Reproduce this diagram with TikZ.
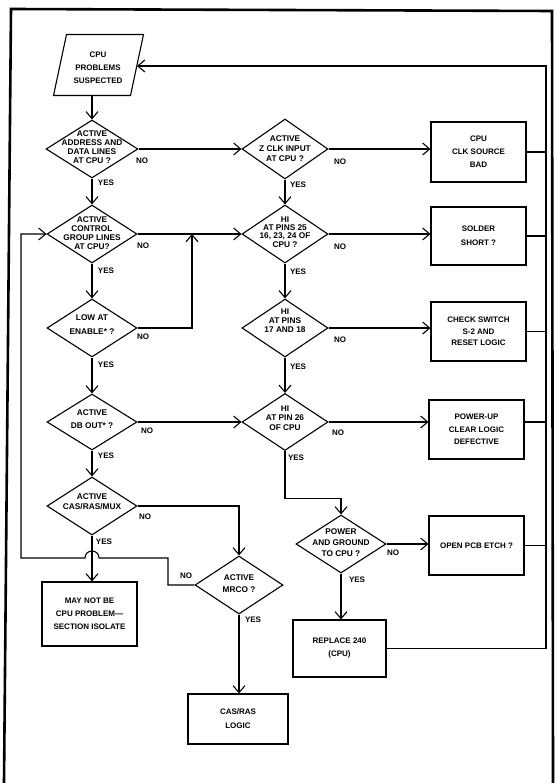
\documentclass[tikz,border=0pt]{standalone}
\usepackage{fontspec}
\setmainfont{Liberation Sans}
\usetikzlibrary{shapes.geometric,arrows.meta,calc}
\begin{document}
\begin{tikzpicture}[x=1pt,y=-1pt,line width=1.1pt,
  arr/.style={-{Straight Barb[length=7pt,width=12pt,line width=1.1pt]}},
  dia/.style={draw, diamond, inner sep=0pt, minimum width=90pt, minimum height=58pt},
  dtext/.style={font=\fontsize{8.3}{#1}\selectfont\bfseries, align=center, inner sep=0pt},
  box/.style={draw, inner sep=0pt, align=center, font=\fontsize{8}{#1}\selectfont\bfseries},
  box/.default=13,
  lbl/.style={font=\fontsize{8}{9}\selectfont\bfseries, inner sep=0pt},
  frame/.style={line width=2.6pt}]
\useasboundingbox (0,0) rectangle (558,783);
% frame
\draw[frame] (4,783) -- (11,9) -- (552,11) -- (553,783);

% start (parallelogram)
\draw (66.5,34.5) -- (143.5,34.5) -- (130.5,95.5) -- (53.5,95.5) -- cycle;
\coordinate (pbot) at (92,95.5);
\coordinate (pright) at (137,66);
\node[dtext=13, font=\fontsize{8}{13}\selectfont\bfseries] (p) at (98,68) {CPU\\PROBLEMS\\SUSPECTED};

% left column decisions
\node[dia, minimum width=92pt] (d1) at (92,149) {};
\node[dtext=8.8] (d1t) at (92,147) {ACTIVE\\ADDRESS AND\\DATA LINES\\AT CPU ?};
\node[dia] (d3) at (92,234) {};
\node[dtext=9] (d3t) at (92,233) {ACTIVE\\CONTROL\\GROUP LINES\\AT CPU?};
\node[dia] (d5) at (92,328) {};
\node[dtext=14] (d5t) at (92,325) {LOW AT\\ENABLE* ?};
\node[dia, minimum height=56pt] (d7) at (92,422) {};
\node[dtext=13] (d7t) at (92,419.5) {ACTIVE\\DB OUT* ?};
\node[dia] (d10) at (92,506) {};
\node[dtext=10] (d10t) at (92,502) {ACTIVE\\CAS/RAS/MUX};
\node[dia, minimum width=88pt] (d11) at (239,585) {};
\node[dtext=12] (d11t) at (239,584) {ACTIVE\\MRCO ?};

% right column decisions
\node[dia, minimum width=86pt, minimum height=60pt] (d2) at (285,149) {};
\node[dtext=10] (d2t) at (285,149) {ACTIVE\\Z CLK INPUT\\AT CPU ?};
\node[dia, minimum width=86pt] (d4) at (285,234) {};
\node[dtext=8.2] (d4t) at (285,232) {HI\\AT PINS 25\\16, 23, 24 OF\\CPU ?};
\node[dia, minimum width=86pt] (d6) at (285,328) {};
\node[dtext=9] (d6t) at (285,321) {HI\\AT PINS\\17 AND 18};
\node[dia, minimum width=86pt, minimum height=57pt] (d8) at (285,422) {};
\node[dtext=9.5] (d8t) at (285,418) {HI\\AT PIN 26\\OF CPU};
\node[dia] (d9) at (341,544) {};
\node[dtext=11] (d9t) at (341,543) {POWER\\AND GROUND\\TO CPU ?};

% boxes
\node[box, minimum width=95pt, minimum height=60pt] (clk) at (478.5,152) {CPU\\CLK SOURCE\\BAD};
\node[box=14, minimum width=95pt, minimum height=58pt] (solder) at (478.5,236) {SOLDER\\SHORT ?};
\node[box=11.5, minimum width=95pt, minimum height=59pt] (check) at (478.5,331.5) {CHECK SWITCH\\S-2 AND\\RESET LOGIC};
\node[box=12.5, minimum width=95pt, minimum height=59pt] (pwr) at (476.5,429.5) {POWER-UP\\CLEAR LOGIC\\DEFECTIVE};
\node[box, minimum width=95pt, minimum height=59pt] (open) at (476.5,545.5) {OPEN PCB ETCH ?};
\node[box, minimum width=93pt, minimum height=57pt] (r) at (339.5,648.5) {REPLACE 240\\(CPU)};
\node[box=14, minimum width=100pt, minimum height=50pt] (cas) at (238,719) {CAS/RAS\\LOGIC};
\node[box, minimum width=95pt, minimum height=64pt] (m) at (89.5,614) {MAY NOT BE\\CPU PROBLEM—\\SECTION ISOLATE};

% labels
\node[lbl] (d1n) at (142,161) {NO};   \node[lbl] (d1y) at (106,183) {YES};
\node[lbl] (d2n) at (340,162) {NO};   \node[lbl] (d2y) at (298,185) {YES};
\node[lbl] (d3n) at (143,246) {NO};   \node[lbl] (d3y) at (106,271) {YES};
\node[lbl] (d4n) at (340,247) {NO};   \node[lbl] (d4y) at (298,272) {YES};
\node[lbl] (d5n) at (143,337) {NO};   \node[lbl] (d5y) at (106,365) {YES};
\node[lbl] (d6n) at (340,340) {NO};   \node[lbl] (d6y) at (298,367) {YES};
\node[lbl] (d7n) at (147,431) {NO};   \node[lbl] (d7y) at (106,456) {YES};
\node[lbl] (d8n) at (338,433) {NO};   \node[lbl] (d8y) at (296,458) {YES};
\node[lbl] (d9n) at (393,553) {NO};   \node[lbl] (d9y) at (357,580) {YES};
\node[lbl] (d10n) at (145,517) {NO};  \node[lbl] (d10y) at (104,542) {YES};
\node[lbl] (d11n) at (186,576) {NO};  \node[lbl] (d11y) at (253,620) {YES};

% coordinates
\coordinate (j) at (192,234);
\coordinate (h1) at (168,558);
\coordinate (hopR) at (99,558);
\coordinate (hopL) at (85,558);
\coordinate (lx) at (21,558);
\coordinate (rx) at (546,0);

% main column
\draw[arr] (pbot) -- (d1.north);
\draw[arr] (d1.south) -- (d3.north);
\draw[arr] (d3.south) -- (d5.north);
\draw[arr] (d5.south) -- (d7.north);
\draw[arr] (d7.south) -- (d10.north);
\draw[arr] (d10.south) -- (d10.south |- m.north);
% right column
\draw[arr] (d1.east) -- (d2.west);
\draw[arr] (d2.east) -- (d2.east -| clk.west);
\draw[arr] (d2.south) -- (d4.north);
\draw[arr] (d3.east) -- (d4.west);
\draw[arr] (d5.east) -| (j);
\draw[arr] (d4.east) -- (d4.east -| solder.west);
\draw[arr] (d4.south) -- (d6.north);
\draw[arr] (d6.east) -- (d6.east -| check.west);
\draw[arr] (d6.south) -- (d8.north);
\draw[arr] (d7.east) -- (d8.west);
\draw[arr] (d8.east) -- (d8.east -| pwr.west);
\draw[arr] (d8.south) -- ++(0,47) -| (d9.north);
\draw[arr] (d9.east) -- (d9.east -| open.west);
\draw[arr] (d9.south) -- (d9.south |- r.north);
\draw[arr] (d10.east) -| (d11.north);
\draw[arr] (d11.south) -- (d11.south |- cas.north);
% loop back on the left
\draw[arr] (d11.west) -| (h1) -- (hopR) .. controls +(0,-9.3) and +(0,-9.3) .. (hopL) -- (lx) |- (d3.west);
% feedback on the right
\draw[arr] (r.east) -- (r.east -| rx) |- (pright);
\draw (clk.east) -- (clk.east -| rx);
\draw (solder.east) -- (solder.east -| rx);
\draw (check.east) -- (check.east -| rx);
\draw (pwr.east |- d8.east) -- (d8.east -| rx);
\draw (open.east) -- (open.east -| rx);
\end{tikzpicture}
\end{document}
